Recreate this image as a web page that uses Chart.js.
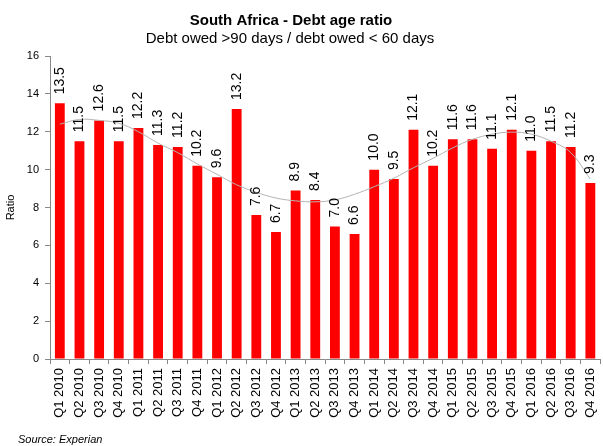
<!DOCTYPE html>
<html>
<head>
<meta charset="utf-8">
<script src="https://cdn.jsdelivr.net/npm/chart.js@4"></script>
<style>
  html, body { margin: 0; padding: 0; background: #fff; overflow: hidden; }
  #chart { display: block; }
</style>
</head>
<body>
<canvas id="chart" width="610" height="446"></canvas>
<script>
const quarters = [
  "Q1 2010", "Q2 2010", "Q3 2010", "Q4 2010",
  "Q1 2011", "Q2 2011", "Q3 2011", "Q4 2011",
  "Q1 2012", "Q2 2012", "Q3 2012", "Q4 2012",
  "Q1 2013", "Q2 2013", "Q3 2013", "Q4 2013",
  "Q1 2014", "Q2 2014", "Q3 2014", "Q4 2014",
  "Q1 2015", "Q2 2015", "Q3 2015", "Q4 2015",
  "Q1 2016", "Q2 2016", "Q3 2016", "Q4 2016",
];
const ratio = [
  13.5, 11.5, 12.6, 11.5, 12.2, 11.3, 11.2, 10.2,
  9.6, 13.2, 7.6, 6.7, 8.9, 8.4, 7.0, 6.6,
  10.0, 9.5, 12.1, 10.2, 11.6, 11.6, 11.1, 12.1,
  11.0, 11.5, 11.2, 9.3,
];
// trendline at each quarter
const trend = [
  12.4, 12.65, 12.6, 12.45, 12.0, 11.4, 10.9, 10.3,
  9.75, 9.2, 8.8, 8.5, 8.35, 8.3, 8.4, 8.7,
  9.1, 9.55, 10.1, 10.6, 11.15, 11.6, 11.87, 11.98,
  11.87, 11.5, 10.9, 9.5,
];
const yTicks = [0, 2, 4, 6, 8, 10, 12, 14, 16];

const FONT = "'Liberation Sans', Arial, sans-serif";

const barLabels = {
  id: "barLabels",
  afterDatasetsDraw(chart) {
    const meta = chart.getDatasetMeta(0);
    const ctx = chart.ctx;
    ctx.save();
    ctx.font = "14px " + FONT;
    ctx.fillStyle = "#000";
    ctx.textAlign = "left";
    ctx.textBaseline = "middle";
    meta.data.forEach((bar, i) => {
      ctx.save();
      ctx.translate(bar.x, bar.y - 9);
      ctx.rotate(-Math.PI / 2);
      ctx.fillText(ratio[i].toFixed(1), 0, 0);
      ctx.restore();
    });
    ctx.restore();
  },
};

const headings = {
  id: "headings",
  afterDraw(chart) {
    const ctx = chart.ctx;
    ctx.save();
    ctx.fillStyle = "#000";
    ctx.textBaseline = "middle";
    ctx.textAlign = "center";
    ctx.font = "bold 15px " + FONT;
    ctx.fillText("South Africa - Debt age ratio", 291, 21);
    ctx.font = "15px " + FONT;
    ctx.fillText("Debt owed >90 days / debt owed < 60 days", 290, 39);
    ctx.textAlign = "left";
    ctx.font = "italic 11px " + FONT;
    ctx.fillText("Source: Experian", 18, 440);
    ctx.restore();
  },
};

new Chart(document.getElementById("chart").getContext("2d"), {
  data: {
    labels: quarters,
    datasets: [
      {
        type: "bar",
        data: ratio,
        backgroundColor: "#ff0000",
        borderWidth: 0,
        barPercentage: 0.5,
        categoryPercentage: 1,
        order: 2,
      },
      {
        type: "line",
        data: trend,
        borderColor: "#b4b4b4",
        borderWidth: 1,
        pointRadius: 0,
        tension: 0.4,
        fill: false,
        order: 1,
      },
    ],
  },
  options: {
    responsive: false,
    animation: false,
    layout: { padding: { top: 56, right: 3, left: 0, bottom: 0 } },
    plugins: {
      legend: { display: false },
      tooltip: { enabled: false },
    },
    scales: {
      x: {
        offset: true,
        grid: {
          offset: true,
          drawOnChartArea: false,
          drawTicks: true,
          tickLength: 5,
          color: "#888",
        },
        border: { color: "#888" },
        ticks: {
          color: "#000",
          font: { family: FONT, size: 13 },
          maxRotation: 90,
          minRotation: 90,
          autoSkip: false,
          padding: 4,
        },
        afterFit: (scale) => { scale.height = 87; },
      },
      y: {
        min: 0,
        max: 16,
        afterBuildTicks: (scale) => {
          scale.ticks = yTicks.map((v) => ({ value: v }));
        },
        grid: {
          drawOnChartArea: false,
          drawTicks: true,
          tickLength: 5,
          color: "#888",
        },
        border: { color: "#888" },
        ticks: {
          color: "#000",
          font: { family: FONT, size: 11 },
          padding: 6,
        },
        title: {
          display: true,
          text: "Ratio",
          color: "#000",
          font: { family: FONT, size: 11 },
          padding: { top: 4, bottom: 4 },
        },
        afterFit: (scale) => { scale.width = 50; },
      },
    },
  },
  plugins: [barLabels, headings],
});
</script>
</body>
</html>
